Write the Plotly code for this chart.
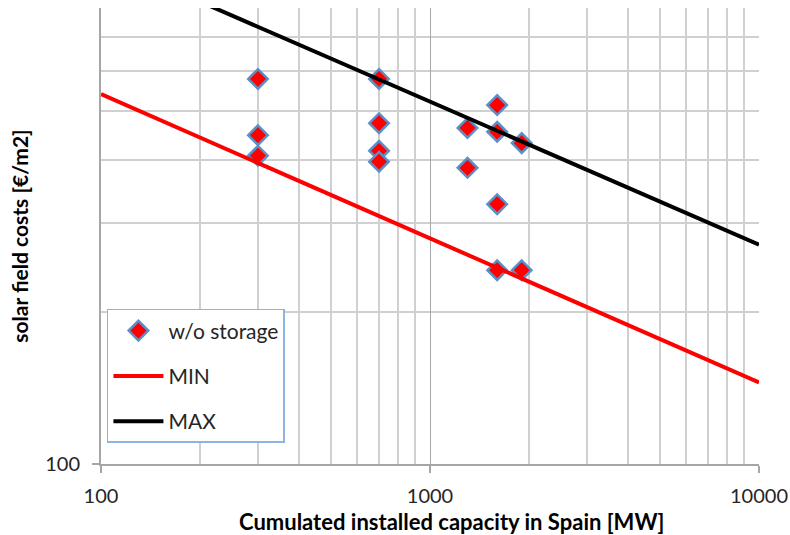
import numpy as np
import plotly.graph_objects as go

# Data
cap_pts = [300, 300, 300, 700, 700, 700, 700, 1300, 1300, 1600, 1600, 1600, 1600, 1900, 1900]
cost_pts = [579, 448, 408, 579, 473, 417, 397, 463, 386, 514, 455, 327, 242, 432, 242]

line_cap = [100, 10000]
min_cost = [540, 145]
max_cost = [1002, 272]

x_major = [100, 1000, 10000]
x_minor = [200, 300, 400, 500, 600, 700, 800, 900,
           2000, 3000, 4000, 5000, 6000, 7000, 8000, 9000]
y_major = [100]
y_minor = [200, 300, 400, 500, 600, 700, 800]

x_title = "Cumulated installed capacity in Spain [MW]"
y_title = "solar field costs [€/m2]"

FONT = "Lato"

fig = go.Figure()
fig.add_trace(go.Scatter(
    x=cap_pts, y=cost_pts, mode="markers", name="w/o storage",
    legendgroup="a",
    marker=dict(symbol="diamond", size=15, color="#ff0000",
                line=dict(color="#5b8fc9", width=2.5)),
))
fig.add_trace(go.Scatter(
    x=line_cap, y=min_cost, mode="lines", name="MIN", legendgroup="b",
    line=dict(color="#ff0000", width=4),
))
fig.add_trace(go.Scatter(
    x=line_cap, y=max_cost, mode="lines", name="MAX", legendgroup="c",
    line=dict(color="#000000", width=4),
))

fig.update_layout(
    width=790, height=535,
    margin=dict(l=101, r=31, t=8, b=71),
    paper_bgcolor="white", plot_bgcolor="white",
    font=dict(family=FONT, size=20, color="#262626"),
    showlegend=True,
    legend=dict(
        x=0.009, y=0.34, xanchor="left", yanchor="top",
        bgcolor="white", bordercolor="#8db3e2", borderwidth=1.5,
        font=dict(family=FONT, size=21, color="#262626"),
        tracegroupgap=15, itemwidth=50,
    ),
    annotations=[dict(
        text="<b>" + x_title + "</b>", xref="paper", yref="paper",
        x=0.533, y=-0.127, xanchor="center", yanchor="middle",
        showarrow=False, font=dict(family=FONT, size=22, color="#000000"),
    )],
)

fig.update_xaxes(
    type="log", range=[2, 4], automargin=False,
    tickmode="array", tickvals=x_major, ticktext=[str(v) for v in x_major],
    showgrid=True, gridcolor="#a6a6a6", gridwidth=1,
    minor=dict(tickmode="array", tickvals=x_minor, showgrid=True,
               gridcolor="#d0d0d0", gridwidth=1.5),
    ticks="outside", ticklen=7, tickcolor="#a6a6a6", tickwidth=1.5,
    showline=True, linecolor="#a6a6a6", linewidth=2,
    ticklabelstandoff=6,
    tickfont=dict(family=FONT, size=20, color="#262626"),
    zeroline=False,
)
fig.update_yaxes(
    type="log", range=[2, np.log10(800)], automargin=False,
    tickmode="array", tickvals=y_major, ticktext=[str(v) for v in y_major],
    showgrid=True, gridcolor="#d0d0d0", gridwidth=1.5,
    minor=dict(tickmode="array", tickvals=y_minor, showgrid=True,
               gridcolor="#d0d0d0", gridwidth=1.5),
    ticks="outside", ticklen=7, tickcolor="#a6a6a6", tickwidth=1.5,
    showline=True, linecolor="#a6a6a6", linewidth=2,
    ticklabelstandoff=8,
    tickfont=dict(family=FONT, size=20, color="#262626"),
    title=dict(text="<b>" + y_title + "</b>",
               font=dict(family=FONT, size=21, color="#000000"), standoff=11),
    zeroline=False,
)

fig.write_html("out.html", config={"displayModeBar": False},
               post_script="document.body.style.margin='0';")
